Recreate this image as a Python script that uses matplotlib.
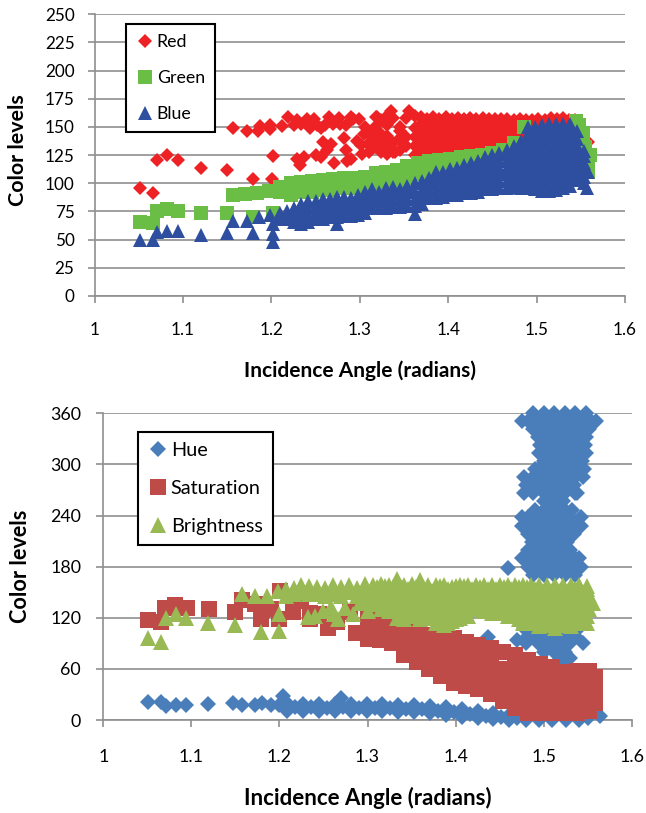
import matplotlib
matplotlib.use("Agg")
import matplotlib.pyplot as plt

plt.rcParams['font.family'] = ['Lato', 'DejaVu Sans']

# ---------- top chart data ----------
red_x = [1.052,1.066,1.071,1.0825,1.094,1.12,1.15,1.157,1.172,1.179,1.185,1.187,1.202,1.201,1.198,1.199,
         1.212,1.219,1.229,1.24,1.248,1.244,1.256,1.265,1.261,1.276,1.278,1.29,1.299,1.318,1.335,1.356,1.32,1.292,
         1.229,1.232,1.237,1.25,1.256,1.258,1.267,1.271,1.263,1.282,1.286,1.284,1.297,1.305,1.301,1.316,1.312,1.324,1.303,1.29,1.33,1.34,1.558,1.552,1.345,1.35,
         1.226,1.234,1.252,1.27,1.285,1.306]
red_y = [95.6,91,120.5,125,120.5,113.5,111.5,149,146.5,103.5,146,151,124,104,152,148,
         151,159,156,157,157,149,149,159,152,158,153,159,157,159,164,164,159,157,
         122,116,123,125,123,137,135,118,130,140,120,130,138,144,134,146,133,138,126,122,133,128,137,145,146,135,
         152,153,152,153,152,150]
red_col_x = [1.31,1.317,1.324,1.331,1.338,1.345,1.352,1.362,1.369,1.376,1.383,1.39,1.397,1.404,1.411,1.418,1.425,1.432,1.439,1.446,1.453,1.46,1.467,1.474,1.481,1.488,1.495,1.502,1.509,1.516,1.523,1.53,1.537,1.544]
red_col_y = [[128,136,144],[132,140,150],[128,136,144,156],[126,134,142,152,160],[128,136,158],[130,140,150],[133,141,158],
             [125,133,141,149,160],[129,137,145,153,159],[125,133,141,149,157],[129,137,145,153,159],[125,133,141,149,157],[129,137,145,153,159],
             [125,133,141,149,157],[129,137,145,153,158],[125,133,141,149,157],[129,137,145,153,158],[125,133,141,149,157],[129,137,145,153,158],
             [125,133,141,149,157],[129,137,145,153,157],[133,141,149,157],[129,137,145,153,157],[133,141,149,156],[137,145,153,157],
             [133,141,149,156],[137,145,153,156],[141,149,157],[137,145,153,156],[141,149,158],[145,153,157],[141,149,158],[145,153,156],[141,149,156]]

green_x = [1.052,1.066,1.071,1.0825,1.094,1.12,1.15,1.179,1.202,1.157,1.17,1.184,1.197,1.558,1.558,1.56,1.555,1.552,1.548,1.486,1.545]
green_y = [66,65,75,77,75,73.5,74,70,74,90,90.5,91,93,118,110,125,132,145,152,150,155]
green_col_x = [1.21,1.222,1.234,1.246,1.258,1.27,1.282,1.294,1.306,1.318,1.33,1.342,1.354,1.366,1.378,1.39,1.402,1.414,1.426,1.438,1.45,1.462,1.474]
green_col_y = [[92,97],[90,100],[92,101],[92,102],[94,103],[94,104],[96,105],[96,105],[96,106],[100,109],[101,110],[102,112],[105,115],[108,118],
               [110,120],[112,121],[112,122],[114,123],[116,124],[118,125],[120,127],[122,130],[126,136]]

blue_x = [1.052,1.066,1.071,1.0825,1.094,1.12,1.15,1.157,1.172,1.179,1.186,1.198,1.202,1.202,1.202,1.557,1.558]
blue_y = [50,49.5,57,58,58,54.5,55.5,66.5,67,56,70,72,64,55,48,96,110]
blue_col_x = [1.21,1.218,1.226,1.234,1.242,1.25,1.258,1.266,1.274,1.282,1.29,1.298,1.306,1.314,1.322,1.33,1.338,1.346,1.354,1.362,1.37,
              1.378,1.386,1.394,1.402,1.41,1.418,1.426,1.434,1.442,1.45,1.458,1.466,1.474,1.482,1.49,1.498,1.506,1.514,1.522,1.53,1.538,1.546,1.554]
blue_col_y = [[68,74],[68,75],[66,72,78],[64,70,76,82],[66,72,78,84],[68,74,80,84],[68,74,80,86],[70,76,82,86],[64,70,76,82,88],
              [71,77,83,88],[71,77,83,87],[72,78,84,90],[74,80,86,92],[78,84,90,95],[78,84,90,92],[78,84,90,96],[79,85,91,97],[79,85,91,95],
              [80,86,92,98],[73,80,86,92,100],[82,88,94,102],[87,93,99,105],[87,93,99,105,110],[88,94,100,106,110],[90,96,102,108,113],
              [90,96,102,108,114],[91,97,103,109,116],[91,97,103,109,115,118],[92,98,104,110,116,120],[95,101,107,113,119,123],
              [95,101,107,113,119,125],[96,102,108,114,120,127],[96,102,108,114,120,126,130],[97,103,109,115,121,127,133],
              [96,102,108,114,120,126,132,138],[96,102,108,114,120,126,132,138,144,150],[95,101,107,113,119,125,131,137,143,150],
              [93,99,105,111,117,123,129,135,141,147,152],[93,99,105,111,117,123,129,135,141,147,153],[94,100,106,112,118,124,130,136,142,148,153],
              [96,102,108,114,120,126,132,138,144,150,153],[98,104,110,116,122,128,134,140,146,153],[103,109,115,121,127,133,139,146],[100,106,112,118,124,129]]

# ---------- bottom chart data ----------
hue_x = [1.051,1.066,1.071,1.082,1.094,1.119,1.147,1.158,1.172,1.18,1.19,1.2,1.204,1.27,1.437,1.46,1.47,1.545,1.564,1.53]
hue_y = [21,21.5,16,18,18,19,20,18,18,20,18,18,28,26,97,178,94,90,5,73]
hue_low_x = [1.209,1.218,1.227,1.236,1.245,1.254,1.263,1.272,1.281,1.29,1.299,1.308,1.317,1.326,1.335,1.344,1.353,1.362,1.371,1.38,1.389,1.398,
             1.407,1.416,1.425,1.434,1.443,1.452,1.461,1.47,1.48,1.495,1.51,1.525,1.54,1.55]
hue_low_y = [[11,20],[15],[10,19],[15],[10,19],[14],[10,19],[15],[10,19],[14],[10,19],[14],[10,19],[14],[9,18],[13],[9,18],[13],[8,17],[11],
             [6,15],[9],[4,13],[7],[2,11],[5],[1,8],[3],[0,6],[2],[0],[0],[0],[0],[0],[2]]
hue_rows_y = [360,351,342,332,323,313,304,295,285,276,266,257,247,238,228,218,209,199,190,180,170,108,99,90,80,70]
hue_rows_x = [[1.488,1.5,1.512,1.524,1.536,1.548],[1.476,1.482,1.494,1.506,1.518,1.53,1.542,1.554,1.56],[1.488,1.5,1.512,1.524,1.536,1.548,1.552],
              [1.494,1.506,1.518,1.53,1.542,1.548],[1.496,1.5,1.512,1.524,1.536,1.547],[1.495,1.506,1.518,1.53,1.542,1.548],
              [1.5,1.512,1.524,1.536,1.544],[1.49,1.494,1.506,1.518,1.53,1.542,1.546],[1.478,1.488,1.5,1.512,1.524,1.536,1.545],
              [1.48,1.494,1.506,1.518,1.53,1.535],[1.478,1.488,1.5,1.512,1.524,1.536,1.538],[1.5,1.506,1.518,1.522],[1.49,1.5,1.512,1.524,1.532],
              [1.476,1.482,1.494,1.506,1.518,1.53,1.542],[1.476,1.488,1.5,1.512,1.524,1.536,1.542],[1.482,1.494,1.506,1.518,1.53,1.535],
              [1.487,1.5,1.512,1.524,1.526],[1.482,1.494,1.506,1.518,1.53],[1.475,1.488,1.5,1.512,1.524,1.536,1.54],[1.482,1.494,1.506,1.518,1.53,1.542],
              [1.488,1.5,1.512,1.524,1.536],[1.478,1.494,1.506,1.518,1.53,1.54],[1.482,1.488,1.5,1.512,1.524,1.536],[1.48,1.494,1.506,1.518,1.53],
              [1.5,1.512,1.524],[1.518,1.527]]

sat_x = [1.051,1.066,1.07,1.081,1.095,1.12,1.15,1.157,1.179,1.172,1.201,1.2,1.18,1.215,1.235,1.235,1.255,1.245,1.265,1.287,1.28,1.31,1.31,1.225,1.19]
sat_y = [117,115.5,132,134.5,132,130,127,141,118,136,152,118,129,127,118,126,108,125,115,102,127,100,95,140,130]
sat_col_x = [1.30,1.314,1.328,1.342,1.356,1.37,1.384,1.398,1.412,1.426,1.44,1.454,1.468,1.482,1.496,1.51,1.524,1.538,1.552,1.558]
sat_col_y = [[95,108,120],[94,106,115],[90,102,112],[76,88,100,110],[68,80,92,106],[60,72,84,100],[52,64,76,88,98],[44,56,68,82,96],
             [40,52,64,76,92],[36,48,60,72,88],[30,42,54,66,84],[22,34,46,60,80],[14,26,38,50,62,76],[8,20,32,44,56,70],[8,20,32,44,56,66],
             [8,20,32,44,56,62],[8,20,32,44,56],[8,20,32,44,58],[10,22,34,46,58],[20,30,40,50]]

bri_x = [1.051,1.066,1.071,1.082,1.094,1.119,1.149,1.157,1.172,1.179,1.186,1.198,1.2,1.2,1.233,1.24,1.25,1.258,1.266,1.275,1.283,1.292,1.262,1.3]
bri_y = [96,91,120,124,120,114,112,148,146,103,146,151,124,105,121,122,128,133,118,132,125,137,125,128]
bri_col_x = [1.207,1.216,1.225,1.234,1.243,1.252,1.261,1.27,1.279,1.288,1.297,1.306,1.315,1.324,1.333,1.342,1.351,1.36,1.369,1.378,1.387,1.396,1.405,1.414,
             1.423,1.432,1.441,1.45,1.459,1.468,1.477,1.486,1.495,1.504,1.513,1.522,1.531,1.54,1.549,1.552,1.556]
bri_col_y = [[146,154],[148,155],[150,159],[148,157],[148,156],[146,155],[148,158],[146,156],[150,159],[146,155],[140,150,160],
             [136,144,152,158],[130,138,146,154,160],[128,136,144,152,158],[120,128,136,144,152,160,166],[118,126,134,142,150,158],[122,130,138,146,154,160],
             [118,126,134,142,150,158,164],[122,130,138,146,154,159],[114,122,130,138,146,154,159],[112,120,128,136,144,152,158],[116,124,132,140,148,156],
             [120,128,136,144,152,159],[122,130,138,146,154,159],[130,138,146,154,159],[128,136,144,152,158],[126,134,142,150,158],[128,136,144,152,158],
             [122,130,138,146,154,158],[122,130,138,146,154,158],[114,122,130,138,146,154,158],[118,126,134,142,150,158],[110,118,126,134,142,150,158],
             [114,122,130,138,146,154,158],[108,116,124,132,140,148,156,158],[113,121,129,137,145,153,158],[110,118,126,134,142,150,158],
             [116,124,132,140,148,156,158],[114,122,130,138,146,154,157],[130,138,146],[137]]
bri_fill_x = [1.3105,1.3195,1.3285,1.3375,1.3465,1.3555,1.3645,1.3735,1.3825,1.3915,1.4005,1.4095,1.4185,1.4275,1.4365,1.4455,1.4545,1.4635,1.4725,1.4815,1.4905,1.4995,1.5085,1.5175,1.5265,1.5355,1.5445]
bri_fill_y = [[140,148,156],[134,142,150,157],[132,140,148,156],[124,132,140,148,156],[122,130,138,146,154],[126,134,142,150,156],[122,130,138,146,154],
              [120,128,136,144,152],[118,126,134,142,150,157],[114,122,130,138,146,154],[118,126,134,142,150,157],[126,134,142,150,157],[130,138,146,154],
              [132,140,148,156],[130,138,146,154],[130,138,146,154],[126,134,142,150,156],[122,130,138,146,154],[118,126,134,142,150,156],[116,124,132,140,148,156],
              [114,122,130,138,146,154],[112,120,128,136,144,152],[112,120,128,136,144,152],[111,119,127,135,143,151],[112,120,128,136,144,152],[114,122,130,138,146,154],[118,126,134,142,150]]

x_ticks = [1, 1.1, 1.2, 1.3, 1.4, 1.5, 1.6]
x_labels = ['1', '1.1', '1.2', '1.3', '1.4', '1.5', '1.6']
top_y_ticks = [0, 25, 50, 75, 100, 125, 150, 175, 200, 225, 250]
bot_y_ticks = [0, 60, 120, 180, 240, 300, 360]

def expand(xs, cols):
    ox, oy = [], []
    for x, col in zip(xs, cols):
        for y in col:
            ox.append(x)
            oy.append(y)
    return ox, oy

def expand_rows(ys, rows):
    ox, oy = [], []
    for y, row in zip(ys, rows):
        for x in row:
            ox.append(x)
            oy.append(y)
    return ox, oy

W, H = 646, 813
fig = plt.figure(figsize=(W/100, H/100), dpi=100)
GRAY = '#8f8f8f'

def make_ax(l, r, t, b, ymax, yticks, fs, xpad, ypad):
    ax = fig.add_axes([l/W, 1-b/H, (r-l)/W, (b-t)/H])
    ax.set_xlim(1, 1.6)
    ax.set_ylim(0, ymax)
    ax.set_xticks(x_ticks, x_labels)
    ax.set_yticks(yticks)
    ax.grid(axis='y', color=GRAY, lw=1.2)
    ax.set_axisbelow(True)
    for s in ('top', 'right'):
        ax.spines[s].set_visible(False)
    for s in ('left', 'bottom'):
        ax.spines[s].set_color(GRAY)
        ax.spines[s].set_linewidth(1.2)
    ax.tick_params(color=GRAY, width=1.2, length=5, labelsize=fs)
    ax.tick_params(axis='x', pad=xpad)
    ax.tick_params(axis='y', pad=ypad)
    return ax

def mark(ax, x, y, m, c, ms, label=None, z=3):
    return ax.plot(x, y, ls='none', marker=m, color=c, ms=ms, mew=0, label=label, clip_on=False, zorder=z)[0]

def add_legend(ax, handles, anchor, fs, ls, hp, bp):
    lg = ax.legend(handles=handles, loc='upper left', bbox_to_anchor=anchor, bbox_transform=fig.transFigure,
                   frameon=True, fancybox=False, framealpha=1, edgecolor='black', borderaxespad=0,
                   fontsize=fs, labelspacing=ls, handletextpad=hp, handlelength=1.0, borderpad=bp, numpoints=1)
    lg.get_frame().set_linewidth(1.5)
    lg.set_zorder(10)
    return lg

def labels(ax, xfs, xc, yc, yfs, xl, yl):
    ax.set_xlabel('Incidence Angle (radians)', fontsize=xfs, fontweight='bold', va='center', ha='center')
    ax.xaxis.set_label_coords(xc/W, 1-yc/H, transform=fig.transFigure)
    ax.set_ylabel('Color levels', fontsize=yfs, fontweight='bold', va='center', ha='center')
    ax.yaxis.set_label_coords(xl/W, 1-yl/H, transform=fig.transFigure)

RED, GREEN, BLUE = '#ee2224', '#6abd45', '#2e4e9f'
ax1 = make_ax(94.5, 625, 14.3, 296, 250, top_y_ticks, 12.3, 14, 9.4)
rx, ry = expand(red_col_x, red_col_y)
h1 = mark(ax1, red_x + rx, red_y + ry, 'D', RED, 7.2, 'Red', 3)
gx, gy = expand(green_col_x, green_col_y)
h2 = mark(ax1, green_x + gx, green_y + gy, 's', GREEN, 10, 'Green', 4)
bx, by = expand(blue_col_x, blue_col_y)
h3 = mark(ax1, blue_x + bx, blue_y + by, '^', BLUE, 10, 'Blue', 5)
labels(ax1, 15, 360, 371, 15.4, 18, 150)
add_legend(ax1, [h1, h2, h3], (126/W, 1-24.5/H), 12.8, 1.12, 0.18, 0.55)

HUE, SAT, BRI = '#4a7ebb', '#be4b48', '#98b954'
ax2 = make_ax(103.3, 631.7, 413.3, 720, 360, bot_y_ticks, 12.8, 16, 11)
hx, hy = expand(hue_low_x, hue_low_y)
hx2, hy2 = expand_rows(hue_rows_y, hue_rows_x)
h4 = mark(ax2, hue_x + hx + hx2, hue_y + hy + hy2, 'D', HUE, 8, 'Hue', 3)
sx, sy = expand(sat_col_x, sat_col_y)
h5 = mark(ax2, sat_x + sx, sat_y + sy, 's', SAT, 11.5, 'Saturation', 4)
tx, ty = expand(bri_col_x, bri_col_y)
fx, fy = expand(bri_fill_x, bri_fill_y)
h6 = mark(ax2, bri_x + tx + fx, bri_y + ty + fy, '^', BRI, 11.5, 'Brightness', 5)
labels(ax2, 16, 367.5, 798, 15.6, 21, 566)
add_legend(ax2, [h4, h5, h6], (138/W, 1-432/H), 14.3, 1.05, 0.15, 0.5)

fig.savefig('out.png', dpi=100)
